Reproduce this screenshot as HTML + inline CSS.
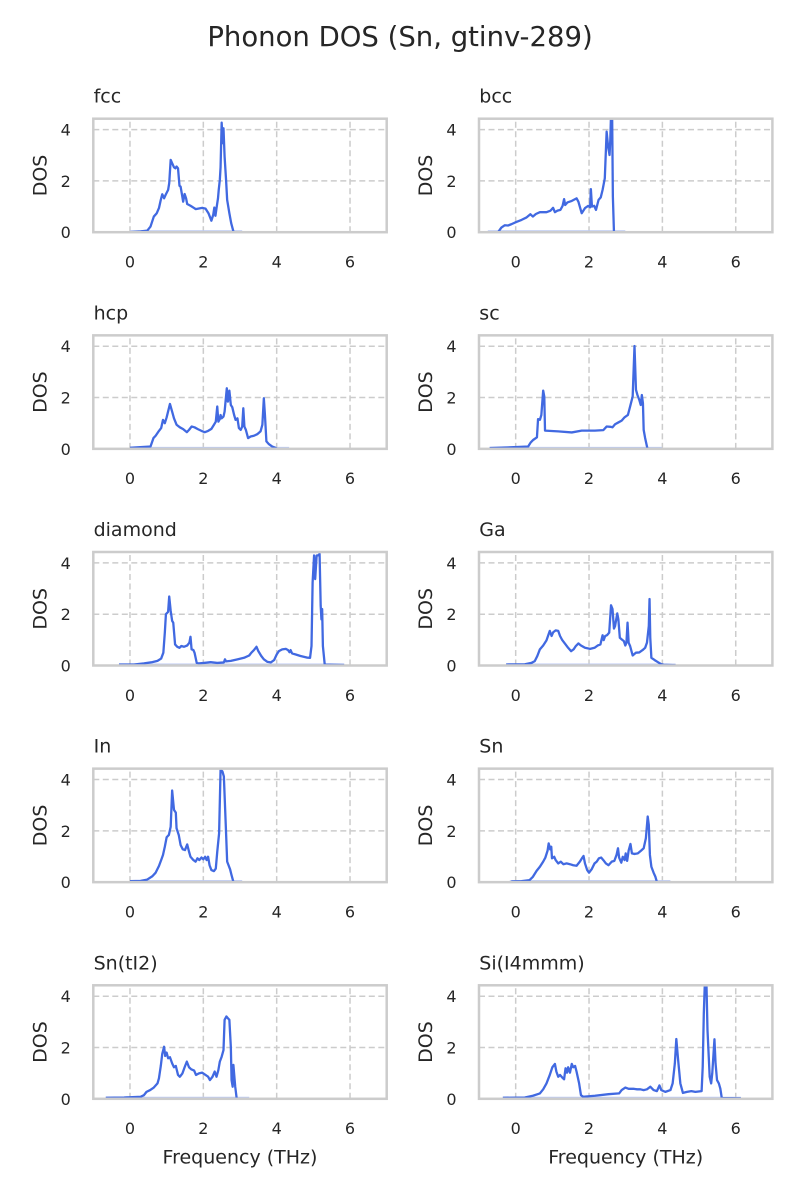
<!DOCTYPE html>
<html><head><meta charset="utf-8"><style>
html,body{margin:0;padding:0;background:#fff}
svg{display:block}
text{font-family:"DejaVu Sans","Liberation Sans",sans-serif;fill:#262626}
.grid path{stroke:#cccccc;stroke-width:1.5;stroke-dasharray:6 3.5;fill:none}
.l{fill:none;stroke:#4169e1;stroke-width:2.3;vector-effect:non-scaling-stroke;stroke-linejoin:round}
.f{fill:none;stroke:#bccaf3;stroke-width:1.6}
.sp{fill:none;stroke:#cccccc;stroke-width:2.5}
.yt{font-size:16px;text-anchor:end}
.xt{font-size:16px;text-anchor:middle}
.ti{font-size:19px}
.yl{font-size:19px;text-anchor:middle}
.xl{font-size:19px;text-anchor:middle}
</style></head><body>
<svg width="800" height="1200" viewBox="0 0 800 1200" xmlns="http://www.w3.org/2000/svg">
<defs><clipPath id="c"><rect x="0" y="0" width="293.4" height="113.5"/></clipPath></defs>
<rect width="800" height="1200" fill="#fff"/>
<text x="400" y="46" style="font-size:27.5px" text-anchor="middle">Phonon DOS (Sn, gtinv-289)</text>

<!-- fcc -->
<g transform="translate(93.3,118.7)">
<g class="grid"><path d="M36.68 113.5V0M110.03 113.5V0M183.38 113.5V0M256.73 113.5V0M0 62.2H293.4M0 10.9H293.4"/></g>
<g clip-path="url(#c)">
<path class="f" d="M36.7 112.3H148.9"/>
<path class="l" vector-effect="non-scaling-stroke" transform="matrix(36.675 0 0 -25.65 36.675 113.5)" d="M0,0 L0.29,0.03 0.47,0.06 0.56,0.22 0.65,0.61 0.73,0.74 0.79,0.94 0.84,1.26 0.88,1.48 0.93,1.32 0.97,1.45 1.04,1.65 1.07,1.91 1.11,2.82 1.15,2.69 1.2,2.53 1.24,2.49 1.27,2.56 1.31,2.49 1.35,1.81 1.38,1.78 1.42,1.45 1.45,1.19 1.49,1.49 1.53,1.32 1.56,1.1 1.65,1.03 1.75,0.94 1.79,0.9 1.97,0.95 2.06,0.92 2.14,0.74 2.22,0.45 2.27,0.68 2.3,0.96 2.33,0.64 2.36,0.94 2.4,1.32 2.42,1.65 2.45,2.04 2.47,2.53 2.5,4.27 2.53,3.47 2.55,4.05 2.58,2.95 2.62,2.04 2.65,1.26 2.71,0.74 2.76,0.35 2.82,0.03 2.84,0"/>
</g>
<rect class="sp" width="293.4" height="113.5"/>
<text class="yt" x="-22.5" y="119.5">0</text><text class="yt" x="-22.5" y="68.2">2</text><text class="yt" x="-22.5" y="16.9">4</text>
<text class="xt" x="36.68" y="148.9">0</text><text class="xt" x="110.03" y="148.9">2</text><text class="xt" x="183.38" y="148.9">4</text><text class="xt" x="256.73" y="148.9">6</text>
<text class="ti" x="0.3" y="-16">fcc</text>
<text class="yl" transform="translate(-46.8,56.75) rotate(-90)">DOS</text>
</g>

<!-- bcc -->
<g transform="translate(479,118.7)">
<g class="grid"><path d="M36.68 113.5V0M110.03 113.5V0M183.38 113.5V0M256.73 113.5V0M0 62.2H293.4M0 10.9H293.4"/></g>
<g clip-path="url(#c)">
<path class="f" d="M8.8 112.3H146.3"/>
<path class="l" vector-effect="non-scaling-stroke" transform="matrix(36.675 0 0 -25.65 36.675 113.5)" d="M-0.48,0 L-0.39,0.18 -0.3,0.27 -0.21,0.26 -0.12,0.31 0.02,0.4 0.16,0.48 0.29,0.57 0.4,0.7 0.47,0.61 0.55,0.71 0.66,0.78 0.84,0.78 0.95,0.84 1.02,0.95 1.07,0.78 1.14,0.84 1.22,0.87 1.28,1.03 1.32,1.29 1.35,1.06 1.41,1.16 1.53,1.22 1.66,1.32 1.71,1.19 1.8,0.74 1.89,0.94 1.98,1.03 2.03,0.97 2.05,1.68 2.08,1 2.14,1.03 2.19,0.87 2.26,1.26 2.32,1.36 2.37,1.65 2.43,2.1 2.48,3.92 2.52,3.34 2.56,3.01 2.58,3.6 2.6,4.6 2.63,4.6 2.65,1.39 2.68,0"/>
</g>
<rect class="sp" width="293.4" height="113.5"/>
<text class="yt" x="-22.5" y="119.5">0</text><text class="yt" x="-22.5" y="68.2">2</text><text class="yt" x="-22.5" y="16.9">4</text>
<text class="xt" x="36.68" y="148.9">0</text><text class="xt" x="110.03" y="148.9">2</text><text class="xt" x="183.38" y="148.9">4</text><text class="xt" x="256.73" y="148.9">6</text>
<text class="ti" x="0.3" y="-16">bcc</text>
<text class="yl" transform="translate(-46.8,56.75) rotate(-90)">DOS</text>
</g>

<!-- hcp -->
<g transform="translate(93.3,335.35)">
<g class="grid"><path d="M36.68 113.5V0M110.03 113.5V0M183.38 113.5V0M256.73 113.5V0M0 62.2H293.4M0 10.9H293.4"/></g>
<g clip-path="url(#c)">
<path class="f" d="M36.7 112.3H195.8"/>
<path class="l" vector-effect="non-scaling-stroke" transform="matrix(36.675 0 0 -25.65 36.675 113.5)" d="M0,0.04 L0.56,0.09 0.64,0.42 0.7,0.51 0.79,0.7 0.85,0.81 0.9,1.13 0.95,1 1,1.23 1.09,1.75 1.15,1.45 1.2,1.19 1.27,0.94 1.36,0.84 1.45,0.77 1.55,0.65 1.61,0.74 1.68,0.87 1.76,0.84 1.85,0.77 1.95,0.7 2.04,0.65 2.13,0.7 2.22,0.78 2.29,0.94 2.34,1.06 2.38,1.65 2.41,1.06 2.45,1.16 2.47,1.32 2.5,1.19 2.55,1.26 2.58,1.45 2.64,2.36 2.67,1.84 2.71,2.27 2.75,1.71 2.79,1.62 2.84,1.32 2.88,1.13 2.93,1.19 2.97,0.81 3.02,0.74 3.06,0.87 3.09,1.58 3.12,0.87 3.16,0.74 3.22,0.42 3.29,0.48 3.38,0.51 3.47,0.57 3.56,0.68 3.61,0.94 3.65,1.97 3.68,1.32 3.72,0.29 3.79,0.18 3.88,0.09 3.97,0.04 4.02,0"/>
</g>
<rect class="sp" width="293.4" height="113.5"/>
<text class="yt" x="-22.5" y="119.5">0</text><text class="yt" x="-22.5" y="68.2">2</text><text class="yt" x="-22.5" y="16.9">4</text>
<text class="xt" x="36.68" y="148.9">0</text><text class="xt" x="110.03" y="148.9">2</text><text class="xt" x="183.38" y="148.9">4</text><text class="xt" x="256.73" y="148.9">6</text>
<text class="ti" x="0.3" y="-16">hcp</text>
<text class="yl" transform="translate(-46.8,56.75) rotate(-90)">DOS</text>
</g>

<!-- sc -->
<g transform="translate(479,335.35)">
<g class="grid"><path d="M36.68 113.5V0M110.03 113.5V0M183.38 113.5V0M256.73 113.5V0M0 62.2H293.4M0 10.9H293.4"/></g>
<g clip-path="url(#c)">
<path class="f" d="M10.6 112.3H183"/>
<path class="l" vector-effect="non-scaling-stroke" transform="matrix(36.675 0 0 -25.65 36.675 113.5)" d="M-0.71,0.03 L-0.3,0.05 0.34,0.09 0.41,0.25 0.48,0.35 0.58,0.45 0.61,1.16 0.66,1.13 0.7,1.32 0.75,2.27 0.78,2.04 0.8,0.71 1.16,0.68 1.53,0.64 1.8,0.71 2.16,0.71 2.39,0.73 2.48,0.87 2.58,0.86 2.64,0.84 2.71,0.96 2.8,1.03 2.89,1.1 2.97,1.23 3.06,1.32 3.12,1.65 3.19,2.04 3.24,4.01 3.28,2.3 3.32,2.1 3.37,1.91 3.41,1.71 3.44,2.1 3.47,1.78 3.49,0.74 3.53,0.42 3.59,0.03"/>
</g>
<rect class="sp" width="293.4" height="113.5"/>
<text class="yt" x="-22.5" y="119.5">0</text><text class="yt" x="-22.5" y="68.2">2</text><text class="yt" x="-22.5" y="16.9">4</text>
<text class="xt" x="36.68" y="148.9">0</text><text class="xt" x="110.03" y="148.9">2</text><text class="xt" x="183.38" y="148.9">4</text><text class="xt" x="256.73" y="148.9">6</text>
<text class="ti" x="0.3" y="-16">sc</text>
<text class="yl" transform="translate(-46.8,56.75) rotate(-90)">DOS</text>
</g>

<!-- diamond -->
<g transform="translate(93.3,552)">
<g class="grid"><path d="M36.68 113.5V0M110.03 113.5V0M183.38 113.5V0M256.73 113.5V0M0 62.2H293.4M0 10.9H293.4"/></g>
<g clip-path="url(#c)">
<path class="f" d="M25.7 112.3H250.9"/>
<path class="l" vector-effect="non-scaling-stroke" transform="matrix(36.675 0 0 -25.65 36.675 113.5)" d="M-0.3,0.04 L0.11,0.04 0.38,0.08 0.61,0.13 0.75,0.18 0.85,0.27 0.91,0.5 0.95,1.28 0.98,2 1.04,2.09 1.07,2.69 1.11,2.13 1.15,1.74 1.18,1.67 1.23,0.82 1.29,0.73 1.35,0.69 1.4,0.76 1.47,0.73 1.56,0.78 1.62,0.89 1.65,1.12 1.68,0.63 1.73,0.6 1.76,0.5 1.82,0.1 1.88,0.08 2.02,0.1 2.2,0.13 2.38,0.1 2.56,0.12 2.59,0.24 2.62,0.16 2.75,0.18 2.93,0.24 3.11,0.3 3.25,0.39 3.31,0.5 3.38,0.6 3.45,0.73 3.5,0.56 3.58,0.37 3.65,0.24 3.75,0.14 3.84,0.12 3.93,0.21 4,0.43 4.06,0.56 4.15,0.63 4.25,0.65 4.31,0.6 4.35,0.52 4.38,0.6 4.42,0.47 4.52,0.43 4.65,0.37 4.82,0.31 4.91,0.3 4.95,0.76 4.98,3.24 5.02,4.29 5.05,3.37 5.09,4.29 5.14,4.3 5.17,4.35 5.2,2.33 5.22,1.8 5.24,2.2 5.26,0.76 5.31,0.04 5.84,0.02"/>
</g>
<rect class="sp" width="293.4" height="113.5"/>
<text class="yt" x="-22.5" y="119.5">0</text><text class="yt" x="-22.5" y="68.2">2</text><text class="yt" x="-22.5" y="16.9">4</text>
<text class="xt" x="36.68" y="148.9">0</text><text class="xt" x="110.03" y="148.9">2</text><text class="xt" x="183.38" y="148.9">4</text><text class="xt" x="256.73" y="148.9">6</text>
<text class="ti" x="0.3" y="-16">diamond</text>
<text class="yl" transform="translate(-46.8,56.75) rotate(-90)">DOS</text>
</g>

<!-- Ga -->
<g transform="translate(479,552)">
<g class="grid"><path d="M36.68 113.5V0M110.03 113.5V0M183.38 113.5V0M256.73 113.5V0M0 62.2H293.4M0 10.9H293.4"/></g>
<g clip-path="url(#c)">
<path class="f" d="M27.1 112.3H196.6"/>
<path class="l" vector-effect="non-scaling-stroke" transform="matrix(36.675 0 0 -25.65 36.675 113.5)" d="M-0.26,0.04 L0.25,0.05 0.43,0.1 0.52,0.17 0.59,0.37 0.66,0.63 0.75,0.78 0.84,0.98 0.93,1.35 0.98,1.15 1.02,1.29 1.09,1.37 1.16,1.35 1.21,1.15 1.27,0.99 1.34,0.86 1.43,0.69 1.51,0.56 1.58,0.63 1.64,0.76 1.71,0.86 1.78,0.78 1.89,0.69 2.03,0.65 2.15,0.69 2.24,0.78 2.31,0.82 2.37,1.18 2.4,0.99 2.44,1.15 2.49,1.18 2.55,1.28 2.6,2.35 2.64,2.2 2.68,1.44 2.71,1.54 2.77,2.03 2.8,1.8 2.84,1.08 2.89,1.02 2.95,0.95 2.99,0.78 3.02,0.89 3.05,1.67 3.08,0.89 3.12,0.76 3.19,0.39 3.28,0.5 3.37,0.51 3.46,0.6 3.53,0.69 3.58,0.89 3.63,1.54 3.65,2.59 3.67,1.08 3.7,0.3 3.79,0.21 3.88,0.13 3.97,0.05 4.04,0.03 4.36,0.01"/>
</g>
<rect class="sp" width="293.4" height="113.5"/>
<text class="yt" x="-22.5" y="119.5">0</text><text class="yt" x="-22.5" y="68.2">2</text><text class="yt" x="-22.5" y="16.9">4</text>
<text class="xt" x="36.68" y="148.9">0</text><text class="xt" x="110.03" y="148.9">2</text><text class="xt" x="183.38" y="148.9">4</text><text class="xt" x="256.73" y="148.9">6</text>
<text class="ti" x="0.3" y="-16">Ga</text>
<text class="yl" transform="translate(-46.8,56.75) rotate(-90)">DOS</text>
</g>

<!-- In -->
<g transform="translate(93.3,768.65)">
<g class="grid"><path d="M36.68 113.5V0M110.03 113.5V0M183.38 113.5V0M256.73 113.5V0M0 62.2H293.4M0 10.9H293.4"/></g>
<g clip-path="url(#c)">
<path class="f" d="M36.7 112.3H148.9"/>
<path class="l" vector-effect="non-scaling-stroke" transform="matrix(36.675 0 0 -25.65 36.675 113.5)" d="M0,0.04 L0.29,0.05 0.47,0.1 0.61,0.23 0.7,0.37 0.79,0.63 0.85,0.86 0.9,1.06 0.95,1.38 1,1.75 1.06,1.84 1.11,2.16 1.15,3.57 1.2,2.82 1.25,2.71 1.27,2.1 1.33,1.84 1.38,1.45 1.44,1.28 1.5,1.25 1.56,1.47 1.61,1.19 1.65,0.99 1.73,0.86 1.79,0.8 1.84,0.93 1.89,0.86 1.95,0.96 2,0.89 2.05,0.99 2.09,0.86 2.13,0.99 2.17,0.66 2.22,0.47 2.29,0.43 2.34,0.53 2.38,1.19 2.43,1.9 2.47,4.38 2.52,4.32 2.56,4.12 2.61,2.29 2.65,0.8 2.73,0.5 2.77,0.27 2.82,0.01"/>
</g>
<rect class="sp" width="293.4" height="113.5"/>
<text class="yt" x="-22.5" y="119.5">0</text><text class="yt" x="-22.5" y="68.2">2</text><text class="yt" x="-22.5" y="16.9">4</text>
<text class="xt" x="36.68" y="148.9">0</text><text class="xt" x="110.03" y="148.9">2</text><text class="xt" x="183.38" y="148.9">4</text><text class="xt" x="256.73" y="148.9">6</text>
<text class="ti" x="0.3" y="-16">In</text>
<text class="yl" transform="translate(-46.8,56.75) rotate(-90)">DOS</text>
</g>

<!-- Sn -->
<g transform="translate(479,768.65)">
<g class="grid"><path d="M36.68 113.5V0M110.03 113.5V0M183.38 113.5V0M256.73 113.5V0M0 62.2H293.4M0 10.9H293.4"/></g>
<g clip-path="url(#c)">
<path class="f" d="M30.8 112.3H191.4"/>
<path class="l" vector-effect="non-scaling-stroke" transform="matrix(36.675 0 0 -25.65 36.675 113.5)" d="M-0.12,0.03 L0.16,0.04 0.38,0.08 0.47,0.21 0.57,0.44 0.66,0.6 0.75,0.8 0.81,0.96 0.87,1.23 0.9,1.51 0.94,1.28 0.97,1.38 0.99,0.93 1.05,0.99 1.09,0.86 1.16,0.73 1.23,0.8 1.3,0.7 1.39,0.73 1.48,0.7 1.57,0.66 1.66,0.64 1.75,0.8 1.82,0.96 1.85,1.02 1.89,0.73 1.95,0.47 2,0.37 2.07,0.5 2.15,0.73 2.21,0.8 2.27,0.93 2.33,0.96 2.39,0.86 2.46,0.73 2.53,0.66 2.62,0.8 2.69,0.83 2.75,1.06 2.79,1.32 2.82,0.96 2.88,0.76 2.92,0.99 2.97,0.86 3,1.12 3.04,0.83 3.08,1.23 3.13,1.49 3.17,1.12 3.24,1.1 3.33,1.12 3.42,1.23 3.49,1.32 3.55,1.71 3.6,2.56 3.63,2.23 3.66,1.06 3.7,0.6 3.76,0.37 3.81,0.21 3.85,0.01"/>
</g>
<rect class="sp" width="293.4" height="113.5"/>
<text class="yt" x="-22.5" y="119.5">0</text><text class="yt" x="-22.5" y="68.2">2</text><text class="yt" x="-22.5" y="16.9">4</text>
<text class="xt" x="36.68" y="148.9">0</text><text class="xt" x="110.03" y="148.9">2</text><text class="xt" x="183.38" y="148.9">4</text><text class="xt" x="256.73" y="148.9">6</text>
<text class="ti" x="0.3" y="-16">Sn</text>
<text class="yl" transform="translate(-46.8,56.75) rotate(-90)">DOS</text>
</g>

<!-- Sn(tI2) -->
<g transform="translate(93.3,985.3)">
<g class="grid"><path d="M36.68 113.5V0M110.03 113.5V0M183.38 113.5V0M256.73 113.5V0M0 62.2H293.4M0 10.9H293.4"/></g>
<g clip-path="url(#c)">
<path class="f" d="M12.5 112.3H155.9"/>
<path class="l" vector-effect="non-scaling-stroke" transform="matrix(36.675 0 0 -25.65 36.675 113.5)" d="M-0.66,0.04 L-0.16,0.05 0.29,0.08 0.38,0.14 0.45,0.27 0.55,0.34 0.65,0.44 0.75,0.6 0.79,0.8 0.84,1.28 0.88,1.75 0.93,2.03 0.96,1.67 1,1.8 1.04,1.58 1.09,1.62 1.15,1.38 1.2,1.23 1.25,1.28 1.31,0.93 1.36,0.86 1.43,0.99 1.49,1.23 1.55,1.45 1.61,1.23 1.67,1.15 1.75,1.1 1.8,0.93 1.88,0.99 1.97,1.02 2.06,0.93 2.13,0.86 2.18,0.73 2.25,0.86 2.31,1.06 2.36,0.86 2.41,1.12 2.45,1.45 2.5,1.64 2.55,1.9 2.58,3.08 2.63,3.21 2.67,3.14 2.71,3.08 2.75,2.03 2.77,0.73 2.8,0.47 2.82,1.32 2.85,0.8 2.87,0.47 2.91,0.01"/>
</g>
<rect class="sp" width="293.4" height="113.5"/>
<text class="yt" x="-22.5" y="119.5">0</text><text class="yt" x="-22.5" y="68.2">2</text><text class="yt" x="-22.5" y="16.9">4</text>
<text class="xt" x="36.68" y="148.9">0</text><text class="xt" x="110.03" y="148.9">2</text><text class="xt" x="183.38" y="148.9">4</text><text class="xt" x="256.73" y="148.9">6</text>
<text class="ti" x="0.3" y="-16">Sn(tI2)</text>
<text class="yl" transform="translate(-46.8,56.75) rotate(-90)">DOS</text>
<text class="xl" x="146.7" y="178">Frequency (THz)</text>
</g>

<!-- Si(I4mmm) -->
<g transform="translate(479,985.3)">
<g class="grid"><path d="M36.68 113.5V0M110.03 113.5V0M183.38 113.5V0M256.73 113.5V0M0 62.2H293.4M0 10.9H293.4"/></g>
<g clip-path="url(#c)">
<path class="f" d="M23.8 112.3H261.9"/>
<path class="l" vector-effect="non-scaling-stroke" transform="matrix(36.675 0 0 -25.65 36.675 113.5)" d="M-0.35,0.04 L0.25,0.05 0.47,0.12 0.66,0.21 0.75,0.37 0.84,0.6 0.93,0.93 1,1.23 1.07,1.36 1.11,1.06 1.16,0.86 1.21,0.93 1.27,0.83 1.32,0.76 1.36,1.19 1.4,1.02 1.43,1.23 1.48,1.02 1.53,1.36 1.57,1.23 1.62,1.28 1.66,1.06 1.73,0.6 1.78,0.14 1.84,0.08 2.16,0.12 2.53,0.18 2.82,0.21 2.89,0.34 2.99,0.44 3.08,0.39 3.21,0.39 3.31,0.37 3.4,0.37 3.49,0.34 3.58,0.37 3.67,0.47 3.76,0.34 3.85,0.3 3.92,0.52 3.97,0.34 4.08,0.27 4.22,0.34 4.28,0.6 4.34,1.38 4.38,2.33 4.43,1.51 4.49,0.6 4.56,0.23 4.67,0.27 4.79,0.3 4.9,0.27 5.07,0.3 5.1,1.25 5.13,3.34 5.16,4.6 5.2,4.6 5.23,2.69 5.29,0.86 5.33,0.6 5.36,0.99 5.42,2.32 5.45,1.38 5.49,0.73 5.54,0.6 5.58,0.4 5.62,0.03 6.14,0.02"/>
</g>
<rect class="sp" width="293.4" height="113.5"/>
<text class="yt" x="-22.5" y="119.5">0</text><text class="yt" x="-22.5" y="68.2">2</text><text class="yt" x="-22.5" y="16.9">4</text>
<text class="xt" x="36.68" y="148.9">0</text><text class="xt" x="110.03" y="148.9">2</text><text class="xt" x="183.38" y="148.9">4</text><text class="xt" x="256.73" y="148.9">6</text>
<text class="ti" x="0.3" y="-16">Si(I4mmm)</text>
<text class="yl" transform="translate(-46.8,56.75) rotate(-90)">DOS</text>
<text class="xl" x="146.7" y="178">Frequency (THz)</text>
</g>
</svg>
</body></html>
